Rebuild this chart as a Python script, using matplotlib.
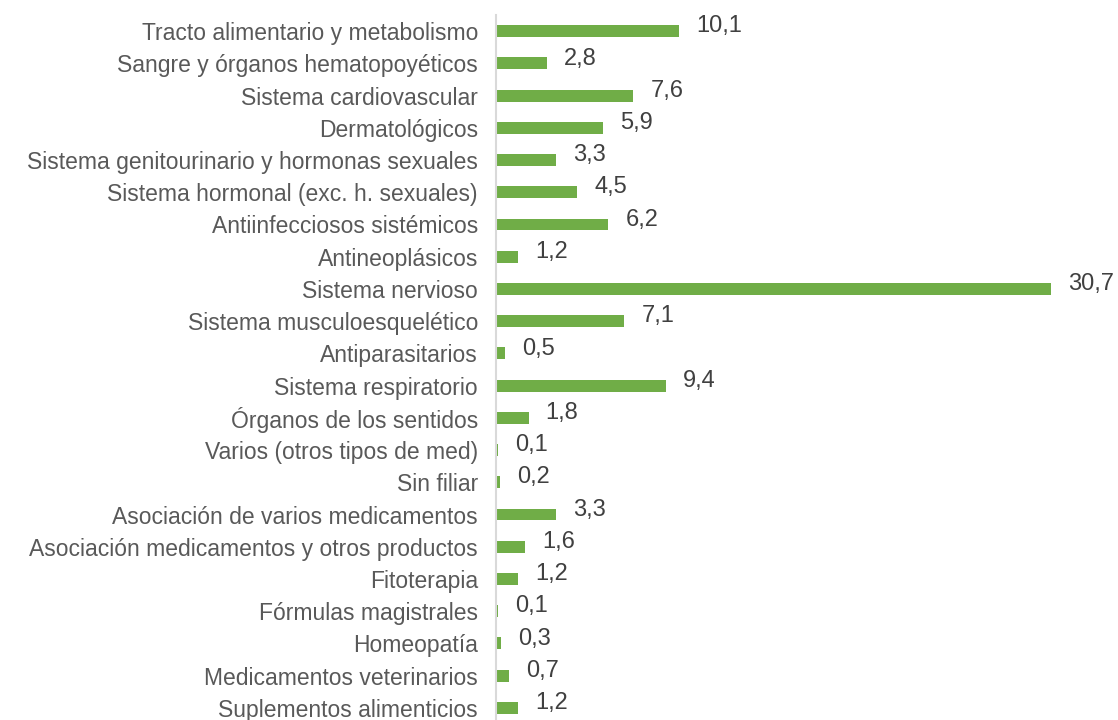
import matplotlib
matplotlib.use("Agg")
import matplotlib.pyplot as plt

# categories, top to bottom
categorias = [
    "Tracto alimentario y metabolismo",
    "Sangre y órganos hematopoyéticos",
    "Sistema cardiovascular",
    "Dermatológicos",
    "Sistema genitourinario y hormonas sexuales",
    "Sistema hormonal (exc. h. sexuales)",
    "Antiinfecciosos sistémicos",
    "Antineoplásicos",
    "Sistema nervioso",
    "Sistema musculoesquelético",
    "Antiparasitarios",
    "Sistema respiratorio",
    "Órganos de los sentidos",
    "Varios (otros tipos de med)",
    "Sin filiar",
    "Asociación de varios medicamentos",
    "Asociación medicamentos y otros productos",
    "Fitoterapia",
    "Fórmulas magistrales",
    "Homeopatía",
    "Medicamentos veterinarios",
    "Suplementos alimenticios",
]
valores = [10.1, 2.8, 7.6, 5.9, 3.3, 4.5, 6.2, 1.2, 30.7, 7.1, 0.5, 9.4,
           1.8, 0.1, 0.2, 3.3, 1.6, 1.2, 0.1, 0.3, 0.7, 1.2]

plt.rcParams['font.family'] = ['Liberation Sans', 'DejaVu Sans']

fig = plt.figure(figsize=(11.18, 7.2), dpi=100)
ax = fig.add_axes([496 / 1118, -4 / 720, 622 / 1118, 709 / 720])

pos = list(range(len(categorias)))
ax.barh(pos, valores, height=0.37, color="#70AD47")

for y, v in zip(pos, valores):
    ax.text(v + 0.95, y - 0.15, f"{v:.1f}".replace(".", ","), va="center", ha="left",
            fontsize=17, color="#404040")

ax.set_ylim(len(categorias) - 0.5, -0.5)
ax.set_xlim(0, 34.4)
ax.set_yticks(pos)
ax.set_yticklabels(categorias, fontsize=16.5, color="#595959")
ax.set_xticks([])
ax.tick_params(axis="y", length=0, pad=13)

for s in ["top", "right", "bottom"]:
    ax.spines[s].set_visible(False)
ax.spines["left"].set_color("#D9D9D9")
ax.spines["left"].set_linewidth(1.5)

fig.savefig("out.png", dpi=100)
